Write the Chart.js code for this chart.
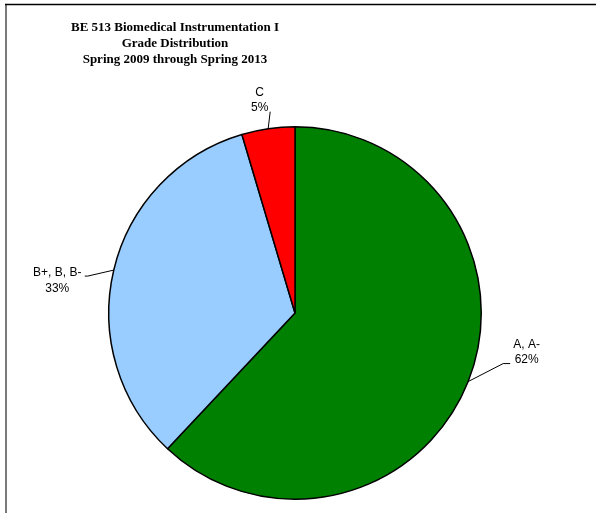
<!DOCTYPE html>
<html><head><meta charset="utf-8">
<script src="https://cdn.jsdelivr.net/npm/chart.js@4"></script>
<style>html,body{margin:0;padding:0;background:#fff;}#wrap{position:relative;width:596px;height:513px;}</style>
</head><body><div id="wrap"><canvas id="c" width="596" height="513"></canvas></div>
<script>
const titleLines = ["BE 513 Biomedical Instrumentation I", "Grade Distribution", "Spring 2009 through Spring 2013"];
const categories = ["A, A-", "B+, B, B-", "C"];
const shares = [62.0, 33.4, 4.6];
const percentLabels = ["62%", "33%", "5%"];
const colors = ["#008000", "#99CCFF", "#FF0000"];

const labelPlugin = {
  id: 'extLabels',
  beforeDraw(chart) {
    const ctx = chart.ctx;
    ctx.save();
    ctx.lineWidth = 2;
    ctx.strokeStyle = '#7a7a7a';
    ctx.beginPath(); ctx.moveTo(6, 513); ctx.lineTo(6, 4); ctx.stroke();
    ctx.lineWidth = 1.5;
    ctx.strokeStyle = '#000';
    ctx.beginPath(); ctx.moveTo(5, 4.5); ctx.lineTo(596, 4.5); ctx.stroke();
    ctx.fillStyle = '#000';
    ctx.font = 'bold 13px "Liberation Serif"';
    ctx.textAlign = 'center'; ctx.textBaseline = 'middle';
    titleLines.forEach((t, i) => ctx.fillText(t, 175, 28 + i * 16));
    ctx.restore();
  },
  afterDatasetsDraw(chart) {
    const ctx = chart.ctx;
    const meta = chart.getDatasetMeta(0);
    // leader geometry per slice: bend offset from arc point, horizontal tail, text centre offset from tail end
    const leaders = [
      {bend: [35, -18], tail: 7, tx: 16.5, ty: -19},
      {bend: [-26, 6], tail: -3, tx: -27.5, ty: -3},
      {bend: [2, -17], tail: 0, tx: -10.5, ty: -19.5}
    ];
    ctx.save();
    ctx.font = '12px "Liberation Sans"';
    ctx.fillStyle = '#000'; ctx.strokeStyle = '#000'; ctx.lineWidth = 1;
    meta.data.forEach((arc, i) => {
      const p = arc.getProps(['x', 'y', 'startAngle', 'endAngle', 'outerRadius'], true);
      const mid = (p.startAngle + p.endAngle) / 2;
      const ax = p.x + Math.cos(mid) * p.outerRadius;
      const ay = p.y + Math.sin(mid) * p.outerRadius;
      const L = leaders[i];
      const bx = ax + L.bend[0], by = ay + L.bend[1];
      ctx.beginPath();
      ctx.moveTo(ax, ay); ctx.lineTo(bx, by); ctx.lineTo(bx + L.tail, by);
      ctx.stroke();
      const ex = bx + L.tail + L.tx, ey = by + L.ty;
      ctx.textAlign = 'center'; ctx.textBaseline = 'middle';
      ctx.fillText(categories[i], ex, ey);
      ctx.fillText(percentLabels[i], ex, ey + 15.5);
    });
    ctx.restore();
  }
};

new Chart(document.getElementById('c'), {
  type: 'pie',
  data: {
    labels: categories,
    datasets: [{
      data: shares,
      backgroundColor: colors,
      borderColor: '#000',
      borderWidth: 1.5,
      borderAlign: 'center'
    }]
  },
  options: {
    responsive: false,
    animation: false,
    layout: { padding: { top: 126, bottom: 13, left: 100, right: 106 } },
    plugins: { legend: { display: false }, tooltip: { enabled: false }, title: { display: false } }
  },
  plugins: [labelPlugin]
});
</script>
</body></html>
